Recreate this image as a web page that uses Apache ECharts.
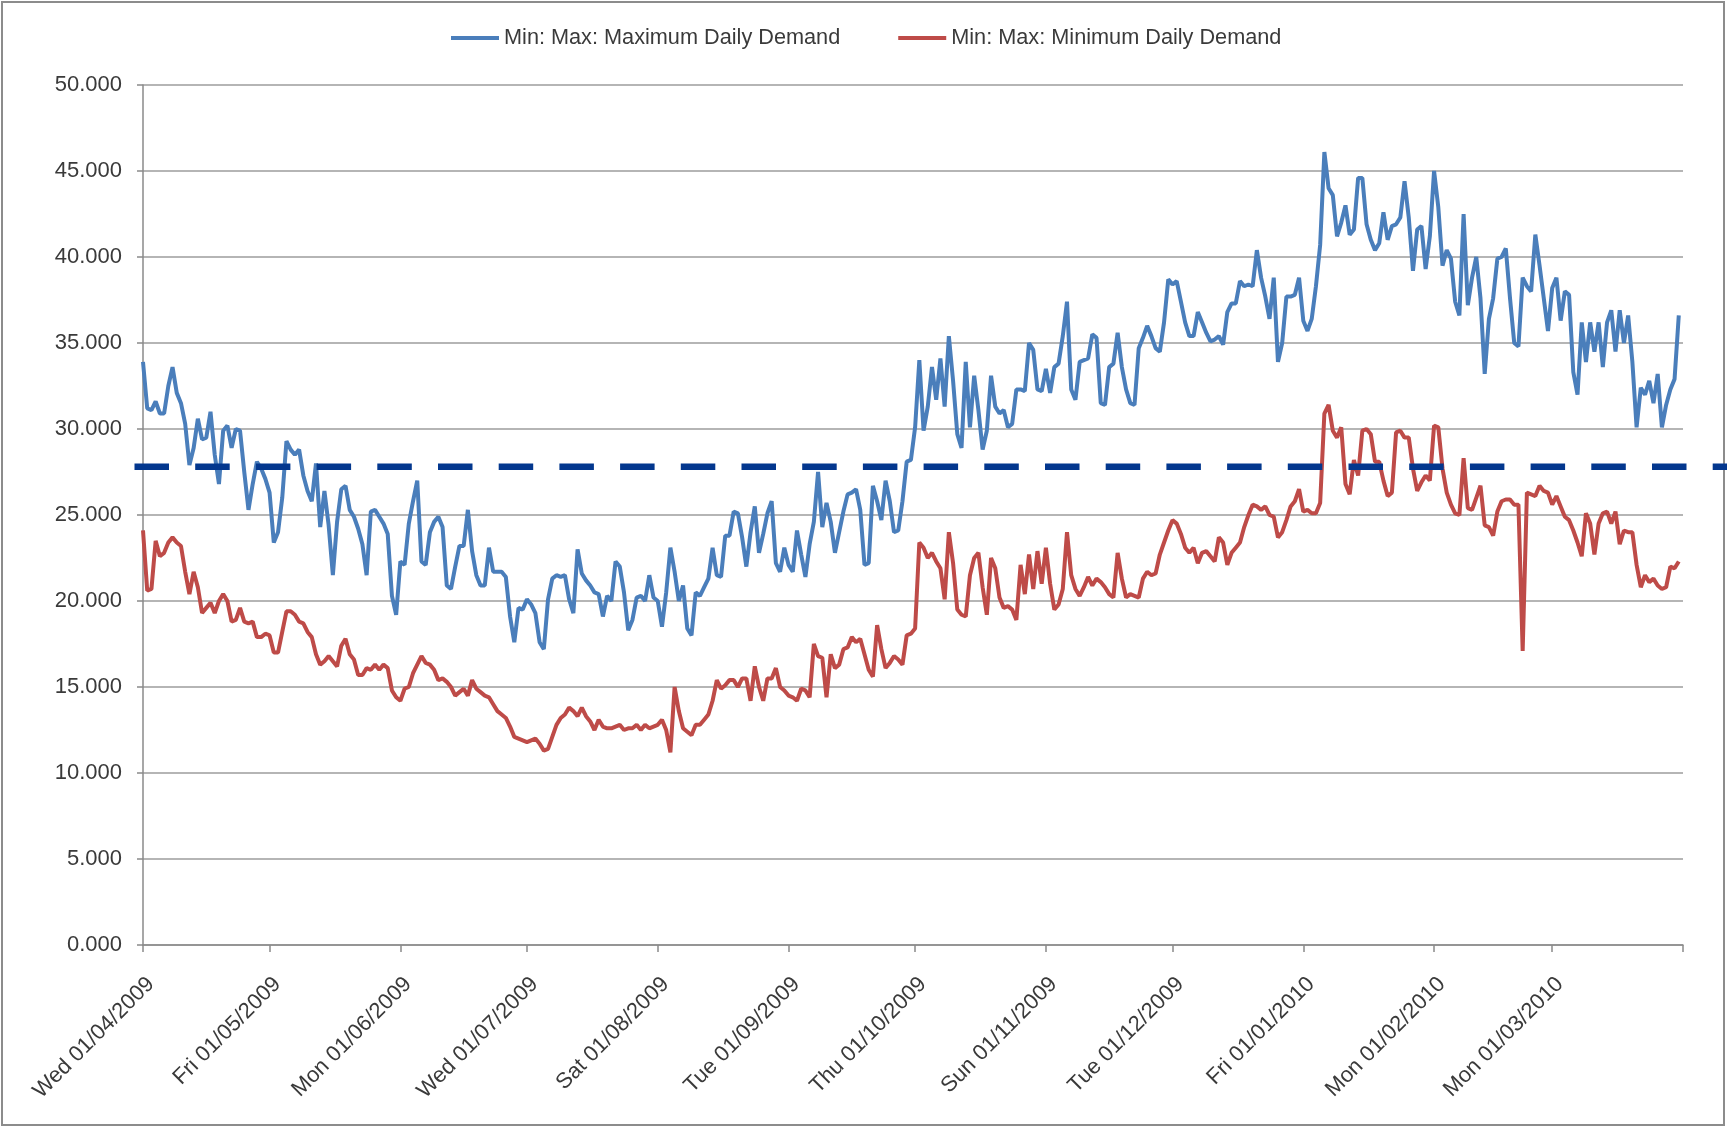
<!DOCTYPE html>
<html>
<head>
<meta charset="utf-8">
<title>Min / Max Daily Demand</title>
<script src="https://cdn.jsdelivr.net/npm/echarts@6/dist/echarts.min.js"></script>
<style>
  html, body { margin: 0; padding: 0; background: #fff; }
  #chart { width: 1727px; height: 1128px; }
</style>
</head>
<body>
<div id="chart"></div>
<script>
// daily values, 01/04/2009 .. 31/03/2010 (thousands)
const maxDemand = [
  33.9, 31.2, 31.1, 31.6, 30.9, 30.9, 32.5, 33.6, 32.1, 31.5,
  30.3, 27.9, 28.9, 30.6, 29.4, 29.5, 31.0, 28.5, 26.8, 29.9,
  30.2, 28.9, 30.0, 29.9, 27.5, 25.3, 26.8, 28.1, 27.7, 27.1,
  26.3, 23.4, 24.0, 26.0, 29.3, 28.8, 28.5, 28.8, 27.3, 26.4,
  25.8, 28.0, 24.3, 26.4, 24.4, 21.5, 24.6, 26.5, 26.7, 25.3,
  24.9, 24.2, 23.3, 21.5, 25.2, 25.3, 24.9, 24.5, 23.9, 20.3,
  19.2, 22.3, 22.1, 24.5, 25.8, 27.0, 22.3, 22.1, 24.0, 24.6,
  24.9, 24.3, 20.9, 20.7, 22.0, 23.2, 23.2, 25.3, 22.9, 21.5,
  20.9, 20.9, 23.1, 21.7, 21.7, 21.7, 21.4, 19.1, 17.6, 19.6,
  19.5, 20.1, 19.8, 19.3, 17.6, 17.2, 20.1, 21.3, 21.5, 21.4,
  21.5, 20.1, 19.3, 23.0, 21.6, 21.2, 20.9, 20.5, 20.4, 19.1,
  20.3, 20.0, 22.3, 22.0, 20.5, 18.3, 18.9, 20.2, 20.3, 20.0,
  21.5, 20.2, 20.0, 18.5, 20.5, 23.1, 21.7, 20.0, 20.9, 18.4,
  18.0, 20.5, 20.3, 20.8, 21.3, 23.1, 21.5, 21.4, 23.8, 23.8,
  25.2, 25.1, 23.7, 22.0, 24.0, 25.5, 22.8, 23.9, 25.1, 25.8,
  22.2, 21.7, 23.1, 22.1, 21.7, 24.1, 22.7, 21.4, 23.3, 24.6,
  27.5, 24.3, 25.7, 24.6, 22.8, 24.0, 25.2, 26.2, 26.3, 26.5,
  25.3, 22.1, 22.2, 26.7, 25.8, 24.7, 27.0, 25.8, 24.0, 24.1,
  25.8, 28.1, 28.2, 30.1, 34.0, 29.9, 31.3, 33.6, 31.7, 34.1,
  31.3, 35.4, 32.8, 29.7, 28.9, 33.9, 30.1, 33.1, 31.1, 28.8,
  29.9, 33.1, 31.3, 30.9, 31.1, 30.1, 30.3, 32.3, 32.3, 32.2,
  35.0, 34.6, 32.3, 32.2, 33.5, 32.1, 33.6, 33.8, 35.4, 37.4,
  32.3, 31.7, 33.9, 34.0, 34.1, 35.5, 35.3, 31.5, 31.4, 33.6,
  33.8, 35.6, 33.6, 32.3, 31.5, 31.4, 34.7, 35.3, 36.0, 35.4,
  34.7, 34.5, 36.2, 38.7, 38.4, 38.6, 37.4, 36.2, 35.4, 35.4,
  36.8, 36.2, 35.6, 35.1, 35.2, 35.4, 34.9, 36.8, 37.3, 37.3,
  38.6, 38.3, 38.4, 38.3, 40.4, 38.8, 37.7, 36.4, 38.8, 33.9,
  35.0, 37.7, 37.7, 37.8, 38.8, 36.3, 35.7, 36.4, 38.3, 40.7,
  46.1, 44.0, 43.6, 41.2, 42.0, 43.0, 41.3, 41.6, 44.6, 44.6,
  41.9, 41.0, 40.4, 40.8, 42.6, 41.0, 41.8, 41.9, 42.3, 44.4,
  42.3, 39.2, 41.6, 41.8, 39.3, 41.2, 45.0, 42.9, 39.5, 40.4,
  39.9, 37.4, 36.6, 42.5, 37.2, 38.8, 40.0, 37.6, 33.2, 36.4,
  37.6, 39.9, 40.0, 40.5, 37.6, 35.0, 34.8, 38.8, 38.3, 38.0,
  41.3, 39.5, 37.6, 35.7, 38.2, 38.8, 36.3, 38.0, 37.8, 33.3,
  32.0, 36.2, 33.9, 36.2, 34.5, 36.2, 33.6, 36.2, 36.9, 34.5,
  36.9, 35.0, 36.6, 33.9, 30.1, 32.4, 32.0, 32.8, 31.5, 33.2,
  30.1, 31.4, 32.3, 32.9, 36.6
];

const minDemand = [
  24.1, 20.6, 20.7, 23.5, 22.6, 22.8, 23.4, 23.7, 23.4, 23.2,
  21.7, 20.4, 21.7, 20.8, 19.3, 19.6, 19.9, 19.3, 20.0, 20.4,
  20.0, 18.8, 18.9, 19.6, 18.8, 18.7, 18.8, 17.9, 17.9, 18.1,
  18.0, 17.0, 17.0, 18.2, 19.4, 19.4, 19.2, 18.8, 18.7, 18.2,
  17.9, 16.9, 16.3, 16.5, 16.8, 16.5, 16.2, 17.4, 17.8, 16.9,
  16.6, 15.7, 15.7, 16.1, 16.0, 16.3, 16.0, 16.3, 16.1, 14.8,
  14.4, 14.2, 14.9, 15.0, 15.8, 16.3, 16.8, 16.4, 16.3, 16.0,
  15.4, 15.5, 15.3, 15.0, 14.5, 14.7, 14.9, 14.5, 15.4, 14.9,
  14.7, 14.5, 14.4, 14.0, 13.6, 13.4, 13.2, 12.7, 12.1, 12.0,
  11.9, 11.8, 11.9, 12.0, 11.7, 11.3, 11.4, 12.1, 12.8, 13.2,
  13.4, 13.8, 13.6, 13.3, 13.8, 13.3, 13.0, 12.5, 13.1, 12.7,
  12.6, 12.6, 12.7, 12.8, 12.5, 12.6, 12.6, 12.8, 12.5, 12.8,
  12.6, 12.7, 12.8, 13.1, 12.5, 11.2, 15.0, 13.6, 12.6, 12.4,
  12.2, 12.8, 12.8, 13.1, 13.4, 14.2, 15.4, 14.9, 15.1, 15.4,
  15.4, 15.0, 15.5, 15.5, 14.2, 16.2, 15.0, 14.2, 15.5, 15.5,
  16.1, 15.0, 14.8, 14.5, 14.4, 14.2, 14.9, 14.8, 14.4, 17.5,
  16.8, 16.7, 14.4, 16.9, 16.1, 16.3, 17.2, 17.3, 17.9, 17.6,
  17.8, 16.9, 16.0, 15.6, 18.6, 17.2, 16.1, 16.4, 16.8, 16.6,
  16.3, 18.0, 18.1, 18.4, 23.4, 23.1, 22.5, 22.8, 22.3, 21.9,
  20.1, 24.0, 22.2, 19.5, 19.2, 19.1, 21.5, 22.5, 22.8, 20.8,
  19.2, 22.5, 21.9, 20.2, 19.6, 19.7, 19.5, 18.9, 22.1, 20.4,
  22.7, 20.7, 22.9, 21.0, 23.1, 21.0, 19.5, 19.8, 20.7, 24.0,
  21.5, 20.7, 20.3, 20.8, 21.4, 20.9, 21.3, 21.1, 20.8, 20.4,
  20.2, 22.8, 21.3, 20.2, 20.4, 20.3, 20.2, 21.3, 21.7, 21.5,
  21.6, 22.7, 23.4, 24.1, 24.7, 24.5, 23.9, 23.1, 22.8, 23.1,
  22.2, 22.8, 22.9, 22.6, 22.3, 23.7, 23.4, 22.1, 22.8, 23.1,
  23.4, 24.3, 25.0, 25.6, 25.5, 25.3, 25.5, 25.0, 24.9, 23.7,
  24.0, 24.7, 25.5, 25.8, 26.5, 25.2, 25.3, 25.1, 25.1, 25.7,
  30.9, 31.4, 29.9, 29.5, 30.1, 26.8, 26.2, 28.2, 27.3, 29.9,
  30.0, 29.7, 28.1, 28.1, 27.0, 26.1, 26.3, 29.8, 29.9, 29.5,
  29.5, 27.7, 26.4, 26.9, 27.3, 27.0, 30.2, 30.1, 27.7, 26.3,
  25.6, 25.1, 25.0, 28.3, 25.4, 25.3, 26.0, 26.7, 24.4, 24.3,
  23.8, 25.2, 25.8, 25.9, 25.9, 25.6, 25.6, 17.1, 26.3, 26.2,
  26.1, 26.7, 26.4, 26.3, 25.6, 26.1, 25.5, 24.9, 24.7, 24.1,
  23.4, 22.6, 25.1, 24.5, 22.7, 24.5, 25.1, 25.2, 24.5, 25.2,
  23.3, 24.1, 24.0, 24.0, 22.1, 20.8, 21.5, 21.1, 21.3, 20.9,
  20.7, 20.8, 22.0, 21.9, 22.3
];

const monthLabels = [
  'Wed 01/04/2009', 'Fri 01/05/2009', 'Mon 01/06/2009', 'Wed 01/07/2009',
  'Sat 01/08/2009', 'Tue 01/09/2009', 'Thu 01/10/2009', 'Sun 01/11/2009',
  'Tue 01/12/2009', 'Fri 01/01/2010', 'Mon 01/02/2010', 'Mon 01/03/2010'
];

const seriesNames = ['Min: Max: Maximum Daily Demand', 'Min: Max: Minimum Daily Demand'];
const targetLevel = 27.8;

// one category per day, axis runs on to 01/04/2010
const dayNames = ['Sun', 'Mon', 'Tue', 'Wed', 'Thu', 'Fri', 'Sat'];
const startDate = Date.UTC(2009, 3, 1);
const pad = (n) => (n < 10 ? '0' + n : '' + n);
const days = [];
for (let i = 0; i <= maxDemand.length; i++) {
  const d = new Date(startDate + i * 86400000);
  days.push(dayNames[d.getUTCDay()] + ' ' + pad(d.getUTCDate()) + '/' +
    pad(d.getUTCMonth() + 1) + '/' + d.getUTCFullYear());
}
const shownLabels = new Set(monthLabels);
const isMonthStart = (idx, val) => val.slice(4, 6) === '01';

const font = "'Liberation Sans', Arial, sans-serif";
const textColor = '#3a3a3a';
const axisGrey = '#8a8a8a';

const chart = echarts.init(document.getElementById('chart'));

const option = {
  animation: false,
  backgroundColor: '#ffffff',
  legend: {
    top: 22,
    left: 446,
    icon: 'rect',
    itemWidth: 48,
    itemHeight: 4,
    itemGap: 58,
    textStyle: { fontSize: 21.7, color: textColor, fontFamily: font },
    data: seriesNames
  },
  grid: {
    left: 143,
    right: 44,
    top: 85,
    bottom: 183
  },
  xAxis: {
    type: 'category',
    data: days,
    boundaryGap: false,
    axisLine: { lineStyle: { color: axisGrey, width: 1.5 } },
    axisTick: {
      length: 7,
      interval: isMonthStart,
      lineStyle: { color: axisGrey, width: 1.5 }
    },
    axisLabel: {
      interval: isMonthStart,
      formatter: (val) => (shownLabels.has(val) ? val : ''),
      rotate: 45,
      verticalAlign: 'top',
      margin: 28,
      fontSize: 22,
      color: textColor,
      fontFamily: font
    },
    splitLine: { show: false }
  },
  yAxis: {
    type: 'value',
    min: 0,
    max: 50,
    interval: 5,
    axisLine: { show: true, lineStyle: { color: axisGrey, width: 1.5 } },
    axisTick: { show: true, length: 6, lineStyle: { color: axisGrey, width: 1.5 } },
    axisLabel: {
      formatter: (v) => v.toFixed(3),
      margin: 21,
      fontSize: 22,
      color: textColor,
      fontFamily: font
    },
    splitLine: { lineStyle: { color: '#9c9c9c', width: 1.5 } }
  },
  series: [
    {
      name: seriesNames[0],
      type: 'line',
      data: maxDemand,
      showSymbol: false,
      lineStyle: { color: '#4a7ebb', width: 4 },
      itemStyle: { color: '#4a7ebb' }
    },
    {
      name: seriesNames[1],
      type: 'line',
      data: minDemand,
      showSymbol: false,
      lineStyle: { color: '#be4b48', width: 4 },
      itemStyle: { color: '#be4b48' }
    }
  ]
};

chart.setOption(option);

// dashed target line runs past the plot to the page edge
const yTarget = chart.convertToPixel({ yAxisIndex: 0 }, targetLevel);
chart.setOption({
  graphic: [
    {
      type: 'rect',
      z: 90,
      shape: { x: 2, y: 2, width: 1722, height: 1123 },
      style: { fill: null, stroke: '#8c8c8c', lineWidth: 2 }
    },
    {
      type: 'line',
      z: 100,
      shape: { x1: 134.5, y1: yTarget, x2: 1727, y2: yTarget },
      style: { stroke: '#03378e', lineWidth: 6.5, lineDash: [34.5, 26.2] }
    }
  ]
});
</script>
</body>
</html>
